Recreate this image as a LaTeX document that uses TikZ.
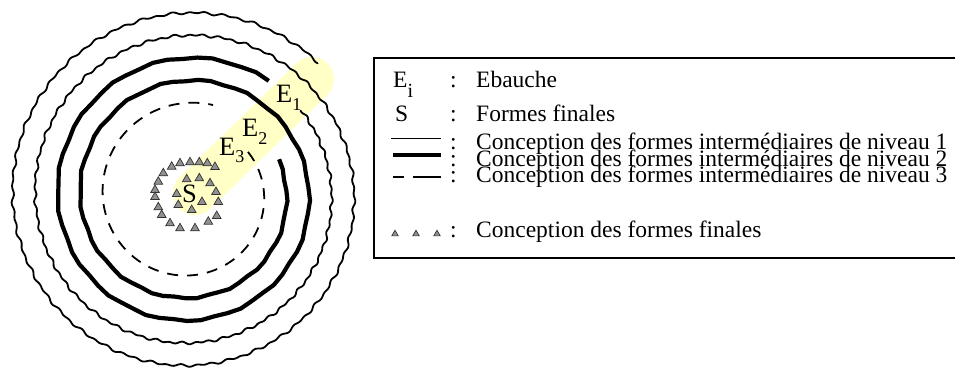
\documentclass[tikz,border=0pt]{standalone}
\usepackage{fontspec}
\setmainfont{Liberation Serif}
\usetikzlibrary{shapes.geometric}
\definecolor{bandyellow}{RGB}{255,255,198}
\definecolor{trigray}{RGB}{145,145,145}

\begin{document}
\begin{tikzpicture}[x=1pt,y=-1pt,
  declare function={
    spr(\p)=94.8+0.0625*\p;
    wob(\p)=0.9*sin(70*mod(\p,5.142857))+0.6*sin(41*mod(\p,8.780488));
    tw(\p)=0.9*sin(17*mod(\p,21.17647));
  },
  lvlone/.style={line width=1.8pt, line join=round, line cap=round},
  lvltwo/.style={line width=4.2pt, line join=round, line cap=butt},
  lvlthree/.style={line width=1.8pt, dash pattern=on 11pt off 9pt},
  finaltri/.style={regular polygon, regular polygon sides=3, minimum size=10pt,
    inner sep=0pt, fill=trigray, draw=black!80, line width=0.7pt},
  legtri/.style={finaltri, minimum size=7.5pt},
  legtext/.style={inner sep=0pt, anchor=base west, font=\fontsize{23.5}{23.5}\selectfont},
  legcolon/.style={inner sep=0pt, anchor=base, font=\fontsize{23.5}{23.5}\selectfont},
  elabel/.style={inner sep=0pt, anchor=base west, font=\fontsize{26.5}{26.5}\selectfont},
]
\useasboundingbox (0,0) rectangle (955,367);

% ---------- spiral of design levels ----------
% blank sketch direction
\draw[bandyellow, line width=44pt, line cap=round] (195,193) -- (312,79);

% level 3 (dashed, innermost turn)
\draw[lvlthree] plot[domain=-351:-30, samples=130, variable=\p]
  ({189+spr(\p)*cos(45-\p)}, {194.75-spr(\p)*sin(45-\p)});

% level 2 (thick, two turns)
\draw[lvltwo] plot[domain=23.5:710, samples=110, variable=\p]
  ({189+(spr(\p)+tw(\p))*cos(45-\p)}, {194.75-(spr(\p)+tw(\p))*sin(45-\p)});

% level 1 (thin, two outer turns)
\draw[lvlone] plot[domain=728:1439.4, samples=900, variable=\p]
  ({189+(spr(\p)+wob(\p))*cos(45-\p)}, {194.75-(spr(\p)+wob(\p))*sin(45-\p)});

% final forms: spiral of small triangles
\foreach \tx/\ty [count=\i] in {
  215/167, 207.3/163.3, 199.3/162.3, 190/162.3, 180/163.3, 171.7/166.7,
  163.3/173.3, 158.3/181.7, 155/190, 155/197, 158.3/207.3, 161.7/215,
  170/223.3, 180/228.3, 195/228.3, 208.3/221.7, 216.7/216,
  218.3/202, 216/192, 210/183.3, 199.3/178.3, 186.7/179.3,
  176.7/194, 178.3/205, 191.7/210, 202/202}
  \node[finaltri] (t\i) at (\tx,\ty) {};

% stage labels
\node[elabel] (s) at (182,202) {S};
\node[elabel] (e1) at (276,102) {E\raisebox{-8pt}{\fontsize{18}{18}\selectfont 1}};
\node[elabel] (e2) at (242,136.5) {E\raisebox{-8pt}{\fontsize{18}{18}\selectfont 2}};
\node[elabel] (e3) at (219,155.5) {E\raisebox{-7pt}{\fontsize{18}{18}\selectfont 3}};

% ---------- legend ----------
\draw[line width=2pt] (374,58) rectangle (975,258);

\node[legtext] (kei) at (393,87) {E\raisebox{-10pt}{\fontsize{20}{20}\selectfont i}};
\node[legtext] (ks) at (395,121.5) {S};
\coordinate (k1a) at (391,138); \coordinate (k1b) at (441,138);
\coordinate (k2a) at (393,155); \coordinate (k2b) at (441,155);
\coordinate (k3a) at (393,177); \coordinate (k3b) at (441,177);
\draw[line width=1pt] (k1a) -- (k1b);
\draw[line width=4pt] (k2a) -- (k2b);
\draw[line width=2.5pt, dash pattern=on 11pt off 9pt on 30pt off 9pt] (k3a) -- (k3b);
\node[legtri] (kt1) at (395,234) {};
\node[legtri] (kt2) at (416,234) {};
\node[legtri] (kt3) at (437,234) {};

\foreach \yy/\nm in {87/a, 121.5/b, 149/c, 166/d, 182.5/e, 237/f}
  \node[legcolon] (col\nm) at (453.5,\yy) {:};

\node[legtext] (l1) at (476,87) {Ebauche};
\node[legtext] (l2) at (476,121.5) {Formes finales};
\node[legtext] (l3) at (476,149) {Conception des formes intermédiaires de niveau 1};
\node[legtext] (l4) at (476,166) {Conception des formes intermédiaires de niveau 2};
\node[legtext] (l5) at (476,182.5) {Conception des formes intermédiaires de niveau 3};
\node[legtext] (l6) at (476,237) {Conception des formes finales};
\end{tikzpicture}
\end{document}
